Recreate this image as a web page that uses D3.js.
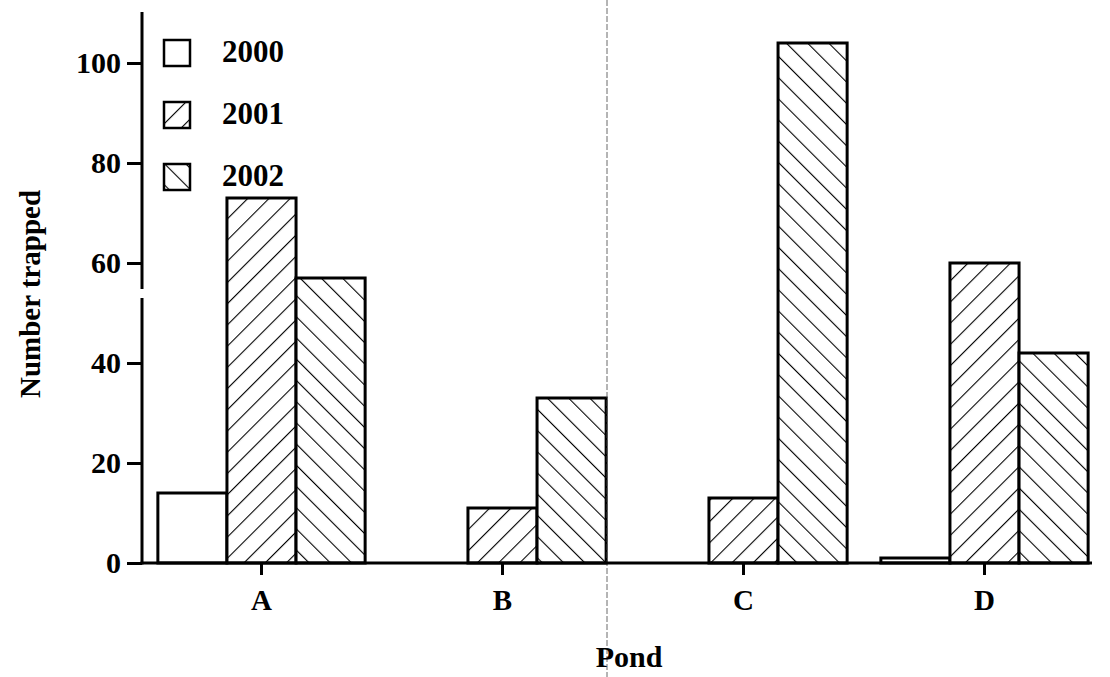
<!DOCTYPE html>
<html>
<head>
<meta charset="utf-8">
<script src="https://cdn.jsdelivr.net/npm/d3@7"></script>
<style>
  body { margin: 0; background: #fff; }
  text { font-family: "Liberation Serif", "DejaVu Serif", serif; font-weight: bold; fill: #000; }
</style>
</head>
<body>
<svg id="chart"></svg>
<script>
const ponds = ["A", "B", "C", "D"];
const years = ["2000", "2001", "2002"];
const trapped2000 = [14, 0, 0, 1];
const trapped2001 = [73, 11, 13, 60];
const trapped2002 = [57, 33, 104, 42];
const yTicks = [0, 20, 40, 60, 80, 100];

const width = 1110, height = 677;
const svg = d3.select("#chart").attr("width", width).attr("height", height);

// hatch patterns
const defs = svg.append("defs");
function hatch(id, angle) {
  const p = defs.append("pattern")
    .attr("id", id)
    .attr("patternUnits", "userSpaceOnUse")
    .attr("width", 15).attr("height", 15)
    .attr("patternTransform", "rotate(" + angle + ")");
  p.append("rect").attr("width", 15).attr("height", 15).attr("fill", "#fff");
  p.append("line").attr("x1", 0).attr("y1", 0).attr("x2", 0).attr("y2", 15)
    .attr("stroke", "#000").attr("stroke-width", 2.2);
}
hatch("h2001", 45);
hatch("h2002", -45);
const fills = ["#fff", "url(#h2001)", "url(#h2002)"];

const x = d3.scaleBand().domain(ponds).range([141, 1105]).paddingInner(0.14).paddingOuter(0.07);
const xs = d3.scaleBand().domain(years).range([0, x.bandwidth()]);
const y = d3.scaleLinear().domain([0, 100]).range([563, 63]);

const rows = [];
ponds.forEach((p, i) => {
  [trapped2000, trapped2001, trapped2002].forEach((s, j) => {
    rows.push({ pond: p, year: years[j], v: s[i], fill: fills[j] });
  });
});

svg.append("g").selectAll("rect")
  .data(rows.filter(d => d.v > 0))
  .enter().append("rect")
    .attr("x", d => x(d.pond) + xs(d.year))
    .attr("y", d => y(d.v))
    .attr("width", xs.bandwidth())
    .attr("height", d => y(0) - y(d.v))
    .attr("fill", d => d.fill)
    .attr("stroke", "#000")
    .attr("stroke-width", 3);

// scan fold line
svg.append("line").attr("x1", 607).attr("x2", 607).attr("y1", 0).attr("y2", height)
  .attr("stroke", "#444").attr("stroke-width", 0.8).attr("stroke-dasharray", "6,2");

// y axis
const yAxis = svg.append("g").attr("transform", "translate(142,0)")
  .call(d3.axisLeft(y).tickValues(yTicks).tickSize(15).tickPadding(6));
yAxis.select(".domain").remove();
yAxis.selectAll(".tick line").attr("stroke-width", 3);
yAxis.selectAll(".tick text").style("font-size", "30px").attr("font-family", null);
svg.append("line").attr("x1", 142).attr("x2", 142).attr("y1", 12).attr("y2", 289)
  .attr("stroke", "#000").attr("stroke-width", 3);
svg.append("line").attr("x1", 142).attr("x2", 142).attr("y1", 298).attr("y2", 564.5)
  .attr("stroke", "#000").attr("stroke-width", 3);

// x axis
const xAxis = svg.append("g").attr("transform", "translate(0,563)")
  .call(d3.axisBottom(x).tickSize(12).tickPadding(14).tickSizeOuter(0));
xAxis.select(".domain").attr("stroke-width", 3).attr("d", "M140.5,0H1092");
xAxis.selectAll(".tick line").attr("stroke-width", 3);
xAxis.selectAll(".tick text").style("font-size", "29px").attr("font-family", null);

// axis titles
svg.append("text").attr("x", 629).attr("y", 667).attr("text-anchor", "middle")
  .style("font-size", "30px").text("Pond");
svg.append("text").attr("transform", "translate(40,294) rotate(-90)").attr("text-anchor", "middle")
  .style("font-size", "29px").text("Number trapped");

// legend
const leg = svg.append("g").selectAll("g").data(years).enter().append("g")
  .attr("transform", (d, i) => "translate(164," + (40 + i * 62) + ")");
leg.append("rect").attr("width", 26).attr("height", 26)
  .attr("fill", (d, i) => fills[i]).attr("stroke", "#000").attr("stroke-width", 2.5);
leg.append("text").attr("x", 58).attr("y", 22).style("font-size", "31px").text(d => d);
</script>
</body>
</html>
